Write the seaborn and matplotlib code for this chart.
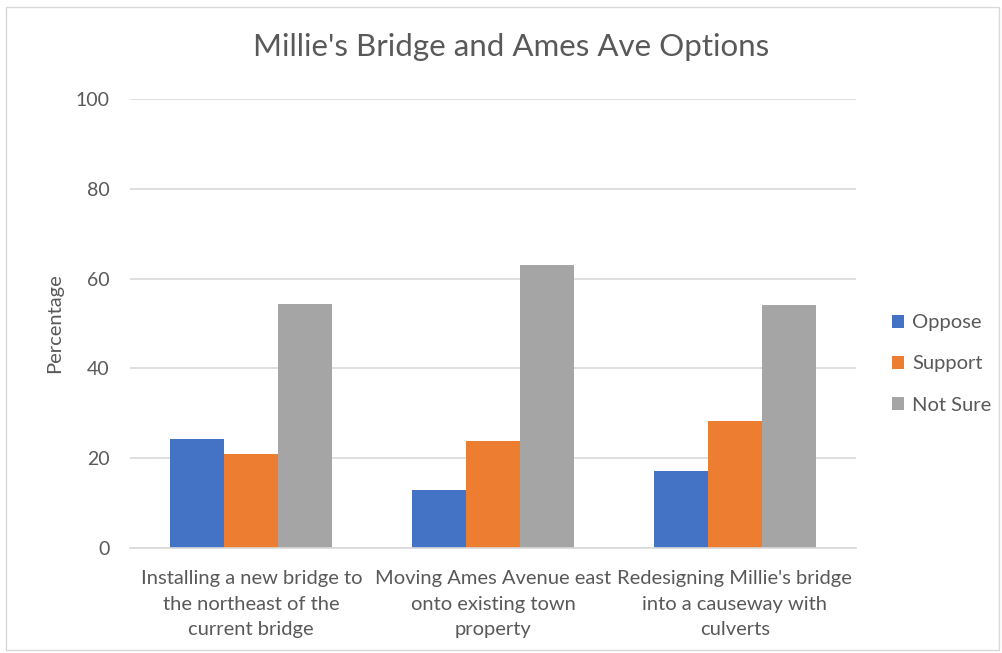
import pandas as pd
import matplotlib.pyplot as plt
import seaborn as sns
from matplotlib.patches import Rectangle

# values
options = [
    "Installing a new bridge to\nthe northeast of the\ncurrent bridge",
    "Moving Ames Avenue east\nonto existing town\nproperty",
    "Redesigning Millie's bridge\ninto a causeway with\nculverts",
]
responses = ["Oppose", "Support", "Not Sure"]
oppose = [24.2, 12.8, 17.2]
support = [21.0, 23.8, 28.3]
not_sure = [54.4, 63.0, 54.1]
colors = ["#4472C4", "#ED7D31", "#A5A5A5"]

df = pd.DataFrame({
    "Option": options * 3,
    "Response": [r for r in responses for _ in options],
    "Percentage": oppose + support + not_sure,
})

sns.set_style("white")
plt.rcParams["font.family"] = ["Lato", "DejaVu Sans"]

fig = plt.figure(figsize=(10.03, 6.53), dpi=100)
ax = fig.add_axes([0.130, 0.161, 0.723, 0.687])

sns.barplot(
    data=df, x="Option", y="Percentage", hue="Response",
    hue_order=responses, palette=colors, width=0.67, gap=0,
    saturation=1, linewidth=0, ax=ax,
)

ax.set_ylim(0, 100)
ax.set_yticks(range(0, 101, 20))
ax.yaxis.grid(True, color="#d9d9d9", linewidth=1.2)
ax.set_axisbelow(True)
for side in ["top", "right", "left"]:
    ax.spines[side].set_visible(False)
ax.spines["bottom"].set_color("#d9d9d9")
ax.spines["bottom"].set_linewidth(1.2)
ax.tick_params(axis="y", length=0, pad=15, labelsize=14, labelcolor="#595959")
ax.tick_params(axis="x", length=0, pad=16, labelsize=14.5, labelcolor="#595959")
for lbl in ax.get_xticklabels():
    lbl.set_linespacing(1.62)

ax.set_xlabel("")
ax.set_ylabel("Percentage", fontsize=14.5, color="#595959", labelpad=9)

fig.suptitle("Millie's Bridge and Ames Ave Options", x=0.51, y=0.95,
             fontsize=22.5, color="#595959")

leg = ax.legend(loc="center left", bbox_to_anchor=(1.025, 0.41), frameon=False,
                fontsize=14.5, handlelength=0.6, handleheight=0.6,
                handletextpad=0.4, labelspacing=1.2)
for t in leg.get_texts():
    t.set_color("#595959")

# chart area border
fig.patches.append(Rectangle((0.006, 0.004), 0.99, 0.985, transform=fig.transFigure,
                             fill=False, edgecolor="#d9d9d9", linewidth=1))

fig.savefig("out.png", dpi=100, facecolor="white")
